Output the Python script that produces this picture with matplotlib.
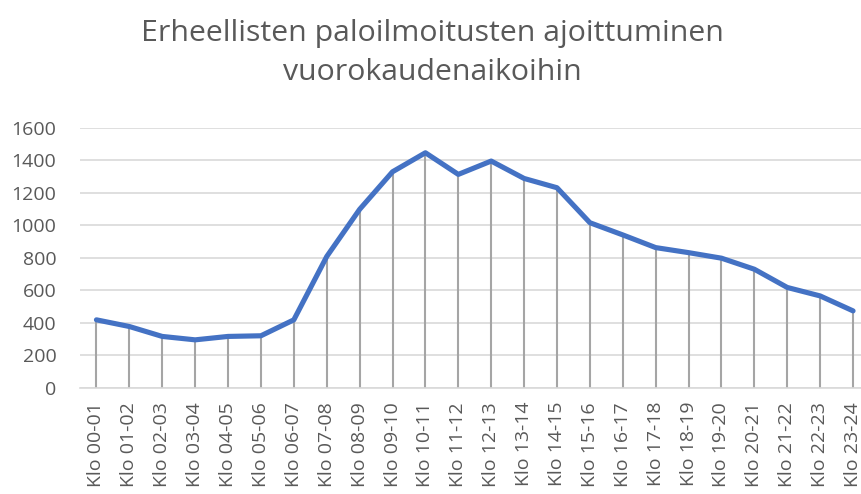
import matplotlib
matplotlib.use("Agg")
import matplotlib.pyplot as plt

categories = ["Klo 00-01", "Klo 01-02", "Klo 02-03", "Klo 03-04", "Klo 04-05", "Klo 05-06",
              "Klo 06-07", "Klo 07-08", "Klo 08-09", "Klo 09-10", "Klo 10-11", "Klo 11-12",
              "Klo 12-13", "Klo 13-14", "Klo 14-15", "Klo 15-16", "Klo 16-17", "Klo 17-18",
              "Klo 18-19", "Klo 19-20", "Klo 20-21", "Klo 21-22", "Klo 22-23", "Klo 23-24"]
values = [419, 378, 317, 296, 317, 321, 419, 808, 1098, 1329, 1446, 1313,
          1395, 1288, 1231, 1016, 941, 863, 832, 798, 730, 618, 566, 474]
yticks = [0, 200, 400, 600, 800, 1000, 1200, 1400, 1600]
title = "Erheellisten paloilmoitusten ajoittuminen\nvuorokaudenaikoihin"

plt.rcParams['font.family'] = ['Open Sans', 'DejaVu Sans']
fig = plt.figure(figsize=(8.61, 4.94), dpi=100)
W, H = 861, 494
left, right, top, bottom = 80, 869.5, 127.7, 388
ax = fig.add_axes([left / W, 1 - bottom / H, (right - left) / W, (bottom - top) / H])

x = list(range(len(categories)))
ax.vlines(x, 0, values, colors="#A5A5A5", linewidth=1.5, zorder=2)
ax.plot(x, values, color="#4472C4", linewidth=3.7, solid_capstyle="round",
        solid_joinstyle="round", zorder=3)

ax.set_xlim(-0.5, len(categories) - 0.5)
ax.set_ylim(0, 1600)
ax.set_yticks(yticks)
ax.set_yticklabels([str(v) for v in yticks], fontsize=14, color="#595959")
ax.set_xticks(x)
ax.set_xticklabels(categories, rotation=90, fontsize=14, color="#595959")
ax.tick_params(axis="both", length=0)
ax.tick_params(axis="y", pad=17)
ax.tick_params(axis="x", pad=10)
ax.grid(axis="y", color="#D9D9D9", linewidth=1.2, zorder=0)
for s in ["top", "right", "left"]:
    ax.spines[s].set_visible(False)
ax.spines["bottom"].set_color("#D9D9D9")
ax.spines["bottom"].set_linewidth(1.2)
ax.set_axisbelow(True)

fig.text(432 / W, 1 - 53 / H, title, ha="center", va="center", fontsize=21.8,
         color="#595959", linespacing=1.45)

fig.savefig("out.png", dpi=100)
